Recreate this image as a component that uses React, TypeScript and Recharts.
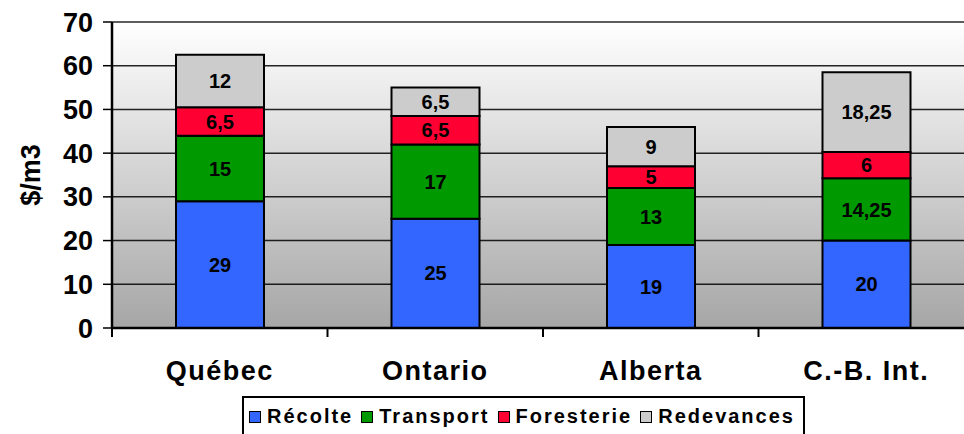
import { BarChart, Bar, XAxis, YAxis, CartesianGrid, LabelList } from 'recharts';

const regions = ['Québec', 'Ontario', 'Alberta', 'C.-B. Int.'];
const recolte = [29, 25, 19, 20];
const transport = [15, 17, 13, 14.25];
const foresterie = [6.5, 6.5, 5, 6];
const redevances = [12, 6.5, 9, 18.25];
const yTicks = [0, 10, 20, 30, 40, 50, 60, 70];

const series = [
    { key: 'recolte', name: 'Récolte', color: '#3366FF' },
    { key: 'transport', name: 'Transport', color: '#009900' },
    { key: 'foresterie', name: 'Foresterie', color: '#FF0033' },
    { key: 'redevances', name: 'Redevances', color: '#CCCCCC' },
];

const data = regions.map((region, i) => ({
    region,
    recolte: recolte[i],
    transport: transport[i],
    foresterie: foresterie[i],
    redevances: redevances[i],
}));

const FONT = '"Liberation Sans", Arial, sans-serif';
const CHART_W = 984;
const CHART_H = 434;
const X_AXIS_H = 30;
const M = { top: 22, right: 10, bottom: 106 - X_AXIS_H, left: 0 };
const Y_AXIS_W = 112;
const PLOT_W = CHART_W - M.left - M.right - Y_AXIS_W;
const PLOT_H = CHART_H - M.top - M.bottom - X_AXIS_H;
const PLOT_BOTTOM = M.top + PLOT_H;
const HALF_BAND = PLOT_W / regions.length / 2;

const fmt = (v: any) => String(v).replace('.', ',');

function CategoryTick(props: any) {
    const { x, payload } = props;
    return (
        <g>
            <line x1={x - HALF_BAND} y1={PLOT_BOTTOM} x2={x - HALF_BAND} y2={PLOT_BOTTOM + 9} stroke="#000" strokeWidth={2} />
            <text
                x={x}
                y={PLOT_BOTTOM + 52}
                textAnchor="middle"
                fontFamily={FONT}
                fontWeight="bold"
                fontSize={27}
                letterSpacing={1.5}
                fill="#000"
            >
                {payload.value}
            </text>
        </g>
    );
}

// legend drawn outside the svg so it doesn't eat into the plot height
function LegendBox() {
    return (
        <div
            style={{
                position: 'absolute',
                left: 242,
                top: 396,
                width: 563,
                height: 50,
                border: '2px solid #000',
                background: '#fff',
                boxSizing: 'border-box',
                display: 'flex',
                alignItems: 'flex-start',
                paddingTop: 7,
                paddingLeft: 5,
                fontFamily: FONT,
                fontWeight: 'bold',
                fontSize: 20,
                letterSpacing: 2,
                whiteSpace: 'nowrap',
            }}
        >
            {series.map((s) => (
                <div key={s.key} style={{ display: 'flex', alignItems: 'center', marginRight: 8 }}>
                    <span
                        style={{
                            display: 'inline-block',
                            width: 10,
                            height: 10,
                            background: s.color,
                            border: '1px solid #000',
                            marginRight: 6,
                        }}
                    />
                    <span>{s.name}</span>
                </div>
            ))}
        </div>
    );
}

export default function App() {
    return (
        <div style={{ position: 'absolute', left: 0, top: 0, width: 964, height: 434, overflow: 'hidden', background: '#fff' }}>
            <div
                style={{
                    position: 'absolute',
                    left: M.left + Y_AXIS_W,
                    top: M.top,
                    width: PLOT_W,
                    height: PLOT_H,
                    background: 'linear-gradient(to bottom, #ffffff 0%, #a6a6a6 100%)',
                }}
            />
            <div style={{ position: 'absolute', left: 0, top: 0 }}>
                <BarChart width={CHART_W} height={CHART_H} data={data} margin={M} barSize={88}>
                    <CartesianGrid horizontal vertical={false} stroke="#000" strokeWidth={1.5} strokeOpacity={0.85} />
                    <XAxis
                        dataKey="region"
                        height={X_AXIS_H}
                        axisLine={{ stroke: '#000', strokeWidth: 2.5 }}
                        tickLine={false}
                        tick={<CategoryTick />}
                        interval={0}
                    />
                    <YAxis
                        width={Y_AXIS_W}
                        domain={[0, 70]}
                        ticks={yTicks}
                        interval={0}
                        axisLine={{ stroke: '#000', strokeWidth: 2.5 }}
                        tickLine={{ stroke: '#000', strokeWidth: 1.5 }}
                        tickSize={9}
                        tickMargin={10}
                        tick={{ fill: '#000', fontSize: 27, fontWeight: 'bold', fontFamily: FONT }}
                        label={{
                            value: '$/m3',
                            angle: -90,
                            position: 'insideLeft',
                            offset: 30,
                            style: { textAnchor: 'middle', fill: '#000', fontSize: 27, fontWeight: 'bold', fontFamily: FONT },
                        }}
                    />
                    {series.map((s) => (
                        <Bar
                            key={s.key}
                            dataKey={s.key}
                            name={s.name}
                            stackId="a"
                            fill={s.color}
                            stroke="#000"
                            strokeWidth={2}
                            isAnimationActive={false}
                        >
                            <LabelList
                                dataKey={s.key}
                                position="center"
                                formatter={fmt}
                                fill="#000"
                                fontSize={20}
                                fontWeight="bold"
                                fontFamily={FONT}
                            />
                        </Bar>
                    ))}
                </BarChart>
            </div>
            <LegendBox />
        </div>
    );
}
